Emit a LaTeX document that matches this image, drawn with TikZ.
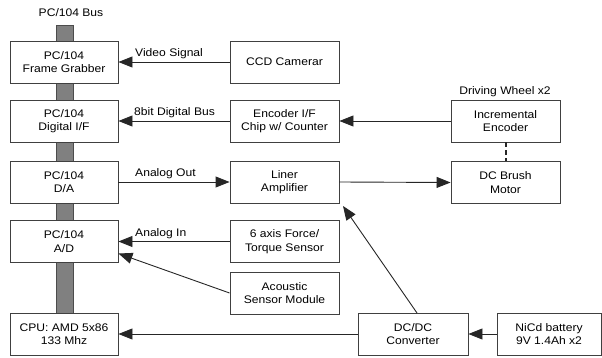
\documentclass[tikz,border=0pt]{standalone}
\usepackage{fontspec}
\setmainfont[FakeStretch=1.1]{Liberation Sans}
\usetikzlibrary{arrows.meta}
\begin{document}
\begin{tikzpicture}[x=1pt,y=-1pt,
  blk/.style={draw=black!75, line width=0.9pt, fill=white, minimum height=42pt, align=center, font=\fontsize{11}{13.5}\selectfont, inner sep=1pt},
  lw/.style={minimum width=108pt},
  mw/.style={minimum width=109pt},
  conn/.style={draw=black!85, line width=0.9pt, -{Triangle[length=14pt,width=11pt]}},
  lbl/.style={font=\fontsize{11}{13.5}\selectfont, inner sep=0pt}]
\useasboundingbox (0,0) rectangle (602,358);
% bus
\fill[black!50, draw=black!70, line width=0.6pt] (56,25) rectangle (73,313);
\node[lbl] (bus) at (71,13) {PC/104 Bus};
% left column
\node[blk,lw] (fg) at (64,62) {PC/104\\Frame Grabber};
\node[blk,lw] (dif) at (64,121) {PC/104\\Digital I/F};
\node[blk,lw] (da) at (64,182) {PC/104\\D/A};
\node[blk,lw] (ad) at (64,241.5) {PC/104\\A/D};
\node[blk,lw] (cpu) at (64,334) {CPU: AMD 5x86\\133 Mhz};
% middle column
\node[blk,mw] (ccd) at (284.5,62) {CCD Camerar};
\node[blk,mw] (eif) at (284.5,121) {Encoder I/F\\Chip w/ Counter};
\node[blk,mw] (amp) at (284.5,182) {Liner\\Amplifier};
\node[blk,mw] (fts) at (284.5,241.5) {6 axis Force/\\Torque Sensor};
\node[blk,mw] (aco) at (284.5,293) {Acoustic\\Sensor Module};
% right
\node[blk,mw] (ienc) at (505.5,121) {Incremental\\Encoder};
\node[blk,mw] (mot) at (505.5,182.5) {DC Brush\\Motor};
\node[lbl] (dw) at (505,92) {Driving Wheel x2};
\node[blk,minimum width=110pt] (dcdc) at (413,334) {DC/DC\\Converter};
\node[blk,minimum width=104pt] (bat) at (549,334) {NiCd battery\\9V 1.4Ah x2};
% connectors
\draw[conn] (ccd.west) -- (fg.east);
\draw[conn] (eif.west) -- (dif.east);
\draw[conn] (da.east) -- (amp.west);
\draw[conn] (fts.west) -- (ad.east);
\draw[conn] (aco.west) -- ([yshift=-12pt]ad.east);
\draw[conn] (dcdc.west) -- (cpu.east);
\draw[conn] (ienc.west) -- (eif.east);
\draw[conn] (amp.east) -- (mot.west);
\draw[conn] (bat.west) -- (dcdc.east);
\coordinate (dctop) at (417,313);
\coordinate (amptip) at (343,206);
\draw[conn] (dctop) -- (amptip);
\draw[black!85, line width=2pt, dash pattern=on 5pt off 3pt] (ienc.south) -- (mot.north);
% labels
\node[lbl, anchor=south west] (l1) at (135,59) {Video Signal};
\node[lbl, anchor=south west] (l2) at (134,118) {8bit Digital Bus};
\node[lbl, anchor=south west] (l3) at (135,179) {Analog Out};
\node[lbl, anchor=south west] (l4) at (135,238.5) {Analog In};
\end{tikzpicture}
\end{document}
